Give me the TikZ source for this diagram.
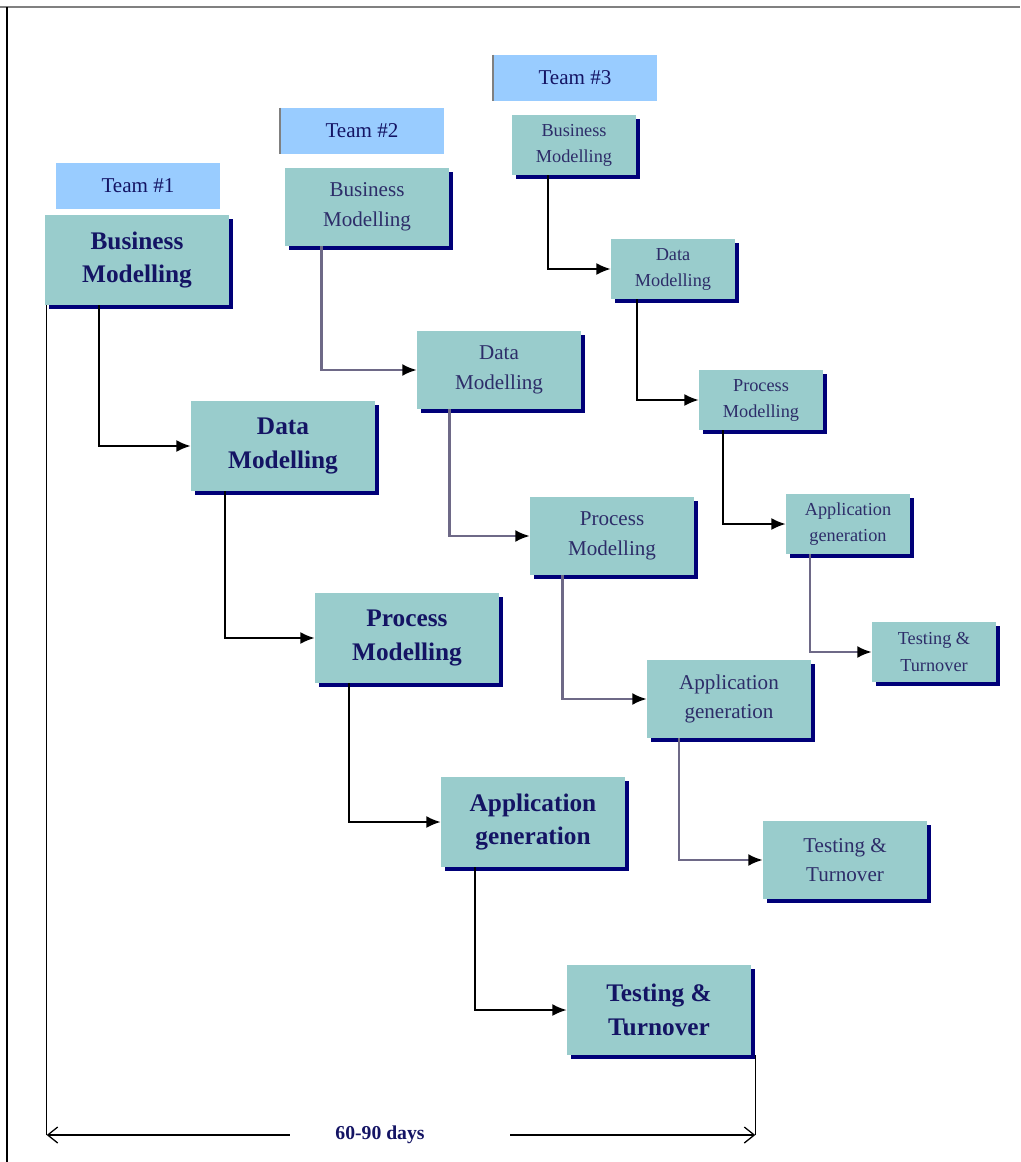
\documentclass[tikz,border=0pt]{standalone}
\usepackage{fontspec}
\setmainfont{Liberation Serif}
\newfontfamily\timesfont{Liberation Serif}
\usepackage{xcolor}
\usepackage{tikz}
\usetikzlibrary{arrows.meta,shadows,calc}

\definecolor{boxfill}{RGB}{153,204,204}
\definecolor{teamfill}{RGB}{153,204,255}
\definecolor{shadowblue}{RGB}{0,0,120}
\definecolor{textnavy}{RGB}{20,20,100}
\definecolor{textblue}{RGB}{45,45,105}
\definecolor{midline}{RGB}{110,105,135}

\begin{document}
\begin{tikzpicture}[x=0.025cm, y=-0.025cm, >={Latex[length=0.36cm,width=0.3cm]},
  phase/.style={fill=boxfill, align=center, inner sep=0pt,
    general shadow={fill=shadowblue, shadow xshift=0.1cm, shadow yshift=-0.1cm}},
  bigphase/.style={phase, minimum width=4.6cm, minimum height=2.25cm, text=textnavy,
    font=\timesfont\fontsize{18}{24}\selectfont\bfseries},
  midphase/.style={phase, minimum width=4.1cm, minimum height=1.95cm, text=textblue,
    font=\timesfont\fontsize{15}{21}\selectfont},
  smallphase/.style={phase, minimum width=3.1cm, minimum height=1.5cm, text=textblue,
    font=\timesfont\fontsize{13}{18.5}\selectfont},
  team/.style={fill=teamfill, minimum width=4.075cm, minimum height=1.15cm, inner sep=0pt,
    text=textnavy, font=\timesfont\fontsize{15}{18}\selectfont},
  link/.style={->, line width=1.3pt},
  greylink/.style={link, midline, line width=1.6pt, -{Latex[black,length=0.36cm,width=0.3cm]}}]
  \useasboundingbox (0,0) rectangle (1020,1162);
  \draw[gray, line width=1.6pt] (0,7) -- (1020,7);
  \draw[line width=0.8pt] (7,7) -- (7,1162);

  % team 1
  \node[team] (team1) at (138,186) {Team \#1};
  \node[bigphase] (bm1) at (137,260) {Business\\Modelling};
  \node[bigphase] (dm1) at (283,446) {Data\\Modelling};
  \node[bigphase] (pm1) at (407,638) {Process\\Modelling};
  \node[bigphase] (ag1) at (533,822) {Application\\generation};
  \node[bigphase] (tt1) at (659,1010) {Testing \&\\Turnover};
  \draw[link] ([xshift=1.35cm]bm1.south west) |- (dm1.west);
  \draw[link] ([xshift=0.85cm]dm1.south west) |- (pm1.west);
  \draw[link] ([xshift=0.85cm]pm1.south west) |- (ag1.west);
  \draw[link] ([xshift=0.85cm]ag1.south west) |- (tt1.west);

  % team 2
  \node[team] (team2) at (362,131) {Team \#2};
  \draw[gray, line width=1.5pt] (team2.north west) -- (team2.south west);
  \node[midphase] (bm2) at (367,207) {Business\\Modelling};
  \node[midphase] (dm2) at (499,370) {Data\\Modelling};
  \node[midphase] (pm2) at (612,536) {Process\\Modelling};
  \node[midphase] (ag2) at (729,699) {Application\\generation};
  \node[midphase] (tt2) at (845,860) {Testing \&\\Turnover};
  \draw[greylink] ([xshift=0.92cm]bm2.south west) |- (dm2.west);
  \draw[greylink] ([xshift=0.82cm]dm2.south west) |- (pm2.west);
  \draw[greylink] ([xshift=0.82cm]pm2.south west) |- (ag2.west);
  \draw[greylink] ([xshift=0.8cm]ag2.south west) |- (tt2.west);

  % team 3
  \node[team] (team3) at (575,78) {Team \#3};
  \draw[gray, line width=1.5pt] (team3.north west) -- (team3.south west);
  \node[smallphase] (bm3) at (574,145) {Business\\Modelling};
  \node[smallphase] (dm3) at (673,269) {Data\\Modelling};
  \node[smallphase] (pm3) at (761,400) {Process\\Modelling};
  \node[smallphase] (ag3) at (848,524) {Application\\generation};
  \node[smallphase] (tt3) at (934,652) {Testing \&\\Turnover};
  \draw[link] ([xshift=0.9cm]bm3.south west) |- (dm3.west);
  \draw[link] ([xshift=0.65cm]dm3.south west) |- (pm3.west);
  \draw[link] ([xshift=0.6cm]pm3.south west) |- (ag3.west);
  \draw[greylink] ([xshift=0.6cm]ag3.south west) |- (tt3.west);

  % time span
  \node[text=textnavy, font=\timesfont\fontsize{14}{16}\selectfont\bfseries] (days) at (380,1135) {60-90 days};
  \coordinate (dl) at (bm1.south west |- days);
  \coordinate (dr) at ([xshift=0.1cm]tt1.south east |- days);
  \coordinate (gl) at (290,1135);
  \coordinate (gr) at (510,1135);
  \draw[line width=0.9pt] ([xshift=0.05cm]bm1.south west) -- ([xshift=0.05cm]dl);
  \draw[line width=0.9pt] ([xshift=0.1cm]tt1.south east) -- (dr);
  \draw[line width=0.9pt, {Straight Barb[length=0.25cm,width=0.4cm]}-] ([xshift=0.05cm]dl) -- (gl);
  \draw[line width=0.9pt, -{Straight Barb[length=0.25cm,width=0.4cm]}] (gr) -- (dr);
\end{tikzpicture}
\end{document}
